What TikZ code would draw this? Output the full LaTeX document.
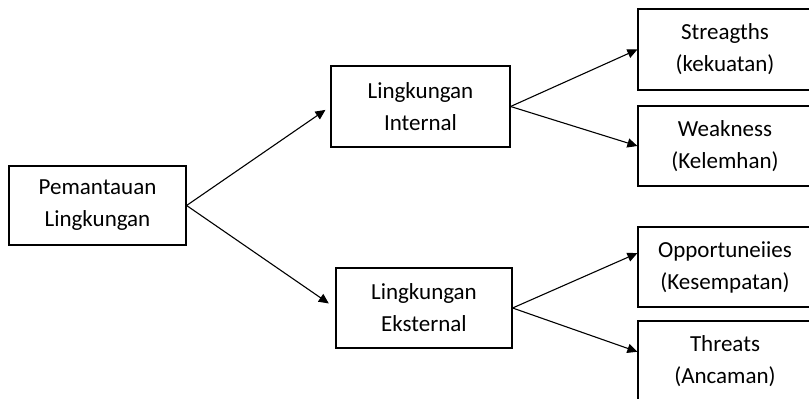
\documentclass[tikz,border=0pt]{standalone}
\usepackage{fontspec}
\setmainfont{Carlito}
\usepackage{tikz}
\usetikzlibrary{arrows.meta}

\begin{document}
\begin{tikzpicture}[x=0.5pt, y=-0.5pt,
    kotak/.style={draw, line width=0.6pt, align=center, inner sep=0pt,
        font=\fontsize{11.5}{16}\selectfont},
    panah/.style={-{Triangle[length=5pt, width=4.6pt]}, line width=0.55pt}]
                % page size and clip for boxes running off the edge
                \useasboundingbox (0,0) rectangle (809,399);
                \clip (0,0) rectangle (809,399);

                % main boxes
                \node[kotak, minimum width=88.5pt, minimum height=39.5pt] (pemantauan) at (97.5,205.5) {Pemantauan\\Lingkungan};
                \node[kotak, minimum width=89.5pt, minimum height=40.5pt] (internal) at (420.5,106.5) {Lingkungan\\Internal};
                \node[kotak, minimum width=88pt, minimum height=40pt] (eksternal) at (424,308) {Lingkungan\\Eksternal};

                % SWOT boxes
                \node[kotak, minimum width=87pt, minimum height=40.5pt] (streagths) at (725,49.5) {Streagths\\(kekuatan)};
                \node[kotak, minimum width=87pt, minimum height=40pt] (weakness) at (725,146) {Weakness\\(Kelemhan)};
                \node[kotak, minimum width=87pt, minimum height=40pt] (peluang) at (725,267) {Opportuneiies\\(Kesempatan)};
                \node[kotak, minimum width=87pt, minimum height=40pt] (threats) at (725,361) {Threats\\(Ancaman)};

                % arrows
                \draw[panah, shorten >=3pt] (pemantauan.east) -- (internal.west);
                \draw[panah, shorten >=4pt] (pemantauan.east) -- (eksternal.west);
                \draw[panah] (internal.east) -- (streagths.west);
                \draw[panah] (internal.east) -- (weakness.west);
                \draw[panah] (eksternal.east) -- (peluang.171);
                \draw[panah] (eksternal.east) -- (threats.174);
            \end{tikzpicture}
\end{document}
